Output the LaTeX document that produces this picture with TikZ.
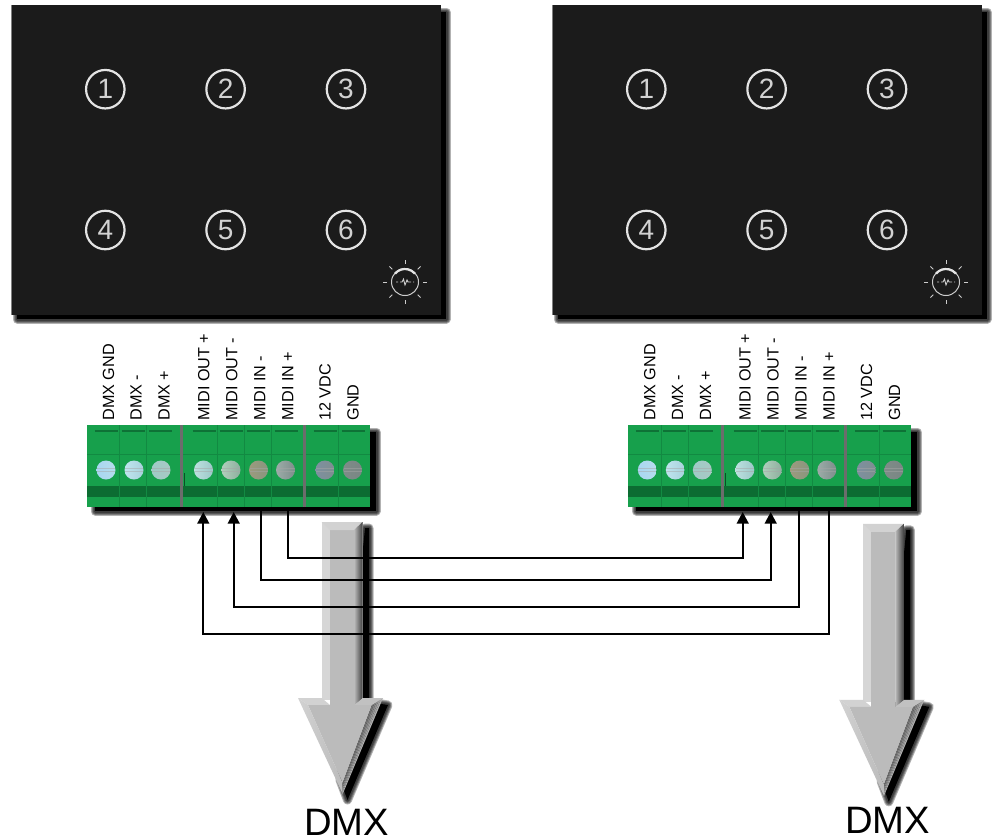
\documentclass[tikz,border=0pt]{standalone}
\usepackage{fontspec}
\setmainfont{Liberation Sans}
\usetikzlibrary{arrows.meta}
\definecolor{panelc}{HTML}{1B1B1B}
\definecolor{ringc}{HTML}{E4E4E4}
\definecolor{greenc}{HTML}{17A04C}
\definecolor{bandc}{HTML}{0C6C32}
\definecolor{lineg}{HTML}{128A42}
\definecolor{dashg}{HTML}{0E7236}
\definecolor{sepc}{HTML}{6C6C6C}
\definecolor{BIGc}{HTML}{D6D6D6}
\definecolor{MIDc}{HTML}{BBBBBB}
\definecolor{TOPc}{HTML}{D2D2D2}
\tikzset{
  numring/.style={circle,draw=ringc,line width=2.2pt,minimum size=38.5pt,inner sep=0pt,text=ringc!92!black,font=\fontsize{28}{28}\selectfont},
  termlabel/.style={rotate=90,anchor=base west,inner sep=0pt,text=black,font=\fontsize{16.2}{16}\selectfont},
  wire/.style={draw=black,line width=2.2pt,line join=miter},
  wirein/.style={wire,-{Triangle[length=11.6pt,width=11.7pt]}},
  sunline/.style={draw=ringc!90!black,line width=1pt},
  dmxlabel/.style={anchor=base,inner sep=0pt,text=black,font=\fontsize{38.2}{38}\selectfont}
}
\newcommand{\softshape}[1]{%
  \foreach \w in {9,7,5,3}{\draw[black,draw opacity=.3,line width=\w pt,line join=round] #1;}
  \fill[black] #1;}
\newcommand{\panelblock}[2]{%
  \begin{scope}[shift={(#2,0)}]
    \softshape{(17,12) rectangle (446,319)}
    \fill[panelc] (11,5) rectangle (441,315);
    \draw[gray,line width=.6pt] (11,5) -- (11,315);
    \node[numring] (#1n1) at (105.3,89.2) {1};
    \node[numring] (#1n2) at (225.6,89.2) {2};
    \node[numring] (#1n3) at (346,89.2) {3};
    \node[numring] (#1n4) at (105.3,230) {4};
    \node[numring] (#1n5) at (225.6,230) {5};
    \node[numring] (#1n6) at (346,230) {6};
    \node[circle,draw=ringc!90!black,line width=1pt,minimum size=27pt,inner sep=0pt] (#1sun) at (405,282) {};
    \foreach \a in {0,45,...,315}{\draw[sunline] (#1sun.center) ++(\a:18) -- ++(\a:4);}
    \draw[ringc,line width=2.2pt] (#1sun.center) ++(-140:13) arc[start angle=220,end angle=320,radius=13];
    \draw[ringc!90!black,line width=.9pt] (396,282) -- (398,282) (400,282) -- (402,282) -- (403.5,279) -- (405,285) -- (407,280) -- (408,282) -- (411,282) (413,282) -- (414,282);
  \end{scope}}
\newcommand{\connector}[1]{%
  \begin{scope}[shift={(#1,0)}]
    \softshape{(95,432) rectangle (376,511)}
    \fill[greenc] (87,425) rectangle (370,507);
    \fill[bandc] (87,486) rectangle (370,497);
    \draw[lineg,line width=.5pt] (87,454) -- (370,454);
    \foreach \x in {119.5,146.5,217,244,271,338}{\draw[lineg,line width=.5pt] (\x,425) -- (\x,507);}
    \foreach \x in {106,133,160,204,231,258,286,325,353}{\draw[dashg,line width=1.2pt] (\x-11.5,431) -- (\x+11.5,431);}
    \fill[sepc] (179.7,425) rectangle (182.7,507);
    \fill[sepc] (303,425) rectangle (305.5,507);
    \draw[dashg!70!black,line width=.7pt] (184,473) -- (184,486);
    \foreach \x/\ca/\cb in {
      106/A8D6F2/B6DDEC,134/BFE4EE/A8D2DC,161/9FCBC6/A8C8C4,
      203.5/BCE0E0/9CC8C8,231/B0CFBC/8EAE9E,258.5/9C9A7E/88967E,
      285.5/9CACA8/7E8E8C,325/7E90A0/7E8E90,352.5/7E8C88/7A8684}{
      \definecolor{sca}{HTML}{\ca}\definecolor{scb}{HTML}{\cb}
      \shade[left color=sca,right color=scb] (\x,470) circle[radius=9.5];
      \draw[black!35,line width=.4pt,opacity=.5] (\x-9,468.5) -- (\x+9,468.5) (\x-9,471.5) -- (\x+9,471.5);
    }
    \node[termlabel] at (114,420.7) {DMX GND};
    \node[termlabel] at (141.7,420.7) {DMX -};
    \node[termlabel] at (169.7,420.7) {DMX +};
    \node[termlabel] at (209.3,420.7) {MIDI OUT +};
    \node[termlabel] at (237.3,420.7) {MIDI OUT -};
    \node[termlabel] at (265.3,420.7) {MIDI IN -};
    \node[termlabel] at (293.3,420.7) {MIDI IN +};
    \node[termlabel] at (330.7,420.7) {12 VDC};
    \node[termlabel] at (358.7,420.7) {GND};
  \end{scope}}
\newcommand{\dmxarrow}[4]{%
  \begin{scope}[shift={(#2,#3)}]
    \softshape{(365,528) -- (369,528) -- (369,702) -- (388,705) -- (347.5,800) -- (340,780) -- cycle}
    \fill[BIGc] (321.7,522) rectangle (363,700);
    \fill[MIDc] (330,530) rectangle (354,705);
    \fill[TOPc] (321.7,522) -- (362.5,522) -- (354,530) -- (330,530) -- cycle;
    \shade[left color=MIDc,right color=black!75] (354,530) -- (362.5,522) -- (362.5,705) -- (354,705) -- cycle;
    \fill[TOPc] (298,698) -- (321.7,698) -- (330,705) -- (308,705) -- cycle;
    \fill[MIDc] (308,705) -- (372,705) -- (342.7,783) -- cycle;
    \shade[left color=TOPc,right color=MIDc] (298,698) -- (308,705) -- (342.7,783) -- (342.7,794) -- cycle;
    \foreach \t/\gr in {0/56,.2/50,.4/44,.6/38,.8/32}{
      \fill[black!\gr!white!100] ({372+11*\t},{705-7*\t}) -- ({372+11*(\t+.2)},{705-7*(\t+.2)}) -- (342.7,{783+11*(\t+.2)}) -- (342.7,{783+11*\t}) -- cycle;}
    \fill[TOPc!92!black] (354,705) -- (362.5,698) -- (383,698) -- (372,705) -- cycle;
    \shade[left color=MIDc,right color=black!75] (354,698) -- (362.5,698) -- (354,705) -- cycle;
    \node[dmxlabel] (#1) at (346.5,#4) {DMX};
  \end{scope}}
\begin{document}
\begin{tikzpicture}[x=1pt,y=-1pt]
  \useasboundingbox (0,0) rectangle (997,839);
  \fill[white] (0,0) rectangle (997,839);
  \panelblock{L}{0}
  \panelblock{R}{541}
  \dmxarrow{dmxL}{0}{0}{835.5}
  \dmxarrow{dmxR}{541.3}{1.8}{831.5}
  \connector{0}
  \connector{541.3}
  \coordinate (Loutp) at (203.3,512);
  \coordinate (Loutm) at (233.7,512);
  \coordinate (Linm) at (260.7,507);
  \coordinate (Linp) at (287.7,507);
  \coordinate (Routp) at (742.7,512);
  \coordinate (Routm) at (770.7,512);
  \coordinate (Rinm) at (799.3,507);
  \coordinate (Rinp) at (829.3,507);
  \coordinate (busa) at (500,557.7);
  \coordinate (busb) at (500,580);
  \coordinate (busc) at (500,607.3);
  \coordinate (busd) at (500,633.7);
  \draw[wirein] (Linp) |- (busa) -| (Routp);
  \draw[wirein] (Linm) |- (busb) -| (Routm);
  \draw[wirein] (Rinm) |- (busc) -| (Loutm);
  \draw[wirein] (Rinp) |- (busd) -| (Loutp);
\end{tikzpicture}
\end{document}
